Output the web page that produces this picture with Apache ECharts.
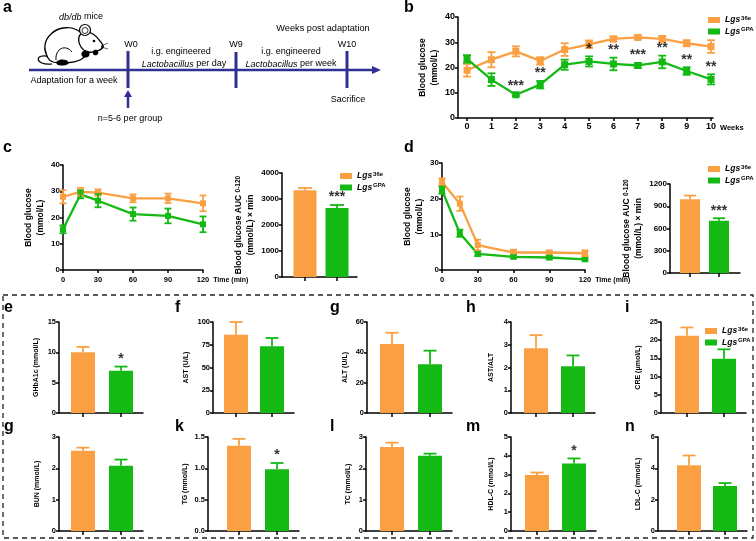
<!DOCTYPE html>
<html>
<head>
<meta charset="utf-8">
<script src="https://cdn.jsdelivr.net/npm/echarts@6/dist/echarts.min.js"></script>
<style>
html, body { margin: 0; padding: 0; background: #fff; }
#main { width: 756px; height: 541px; }
</style>
</head>
<body>
<div id="main"></div>
<script>
var chart = echarts.init(document.getElementById('main'));

var ORANGE = '#FAA042', GREEN = '#14B914', NAVY = '#2E3192';
var FONT = 'Liberation Sans, Arial, sans-serif';
var groups = ['Lgs36e', 'LgsGPA'];

// b: blood glucose by week
var weeks = [0, 1, 2, 3, 4, 5, 6, 7, 8, 9, 10];
var bMean36e = [18.9, 23.1, 26.4, 22.6, 27.1, 29.2, 31.3, 31.9, 31.3, 29.6, 28.3];
var bErr36e = [2.5, 3, 2, 1.5, 2.5, 1.5, 1, 0.8, 1.2, 1.2, 2.5];
var bMeanGPA = [23.4, 15.2, 9.2, 13.2, 21.1, 22.4, 21.4, 20.8, 22.2, 18.6, 15.3];
var bErrGPA = [1.5, 2.5, 0.5, 1.5, 2, 2, 2.5, 1, 2.5, 1.5, 2];
var bSig = ['', '', '***', '**', '', '*', '**', '***', '**', '**', '**'];

// c / d: tolerance tests
var minutes = [0, 15, 30, 60, 90, 120];
var cMean36e = [27.9, 29.8, 29.5, 27.3, 27.3, 25.4];
var cErr36e = [2.5, 1.5, 1.2, 1.5, 1.8, 3];
var cMeanGPA = [15.5, 28.8, 26.4, 21.3, 20.6, 17.4];
var cErrGPA = [1.5, 1.5, 2.5, 2.5, 2.8, 3];
var cAuc = [3333, 2654], cAucErr = [90, 115];
var dMean36e = [24.7, 18.6, 7.0, 4.9, 4.9, 4.7];
var dErr36e = [1, 2, 1.5, 0.8, 0.5, 0.8];
var dMeanGPA = [22.4, 10.3, 4.5, 3.7, 3.5, 3.0];
var dErrGPA = [1, 1, 0.6, 0.4, 0.5, 0.4];
var dAuc = [994, 703], dAucErr = [50, 36];

// e-n: serum biochemistry
var labNames = ['GHbA1c (mmol/L)', 'AST (U/L)', 'ALT (U/L)', 'AST/ALT', 'CRE (μmol/L)',
                'BUN (mmol/L)', 'TG (mmol/L)', 'TC (mmol/L)', 'HDL-C (mmol/L)', 'LDL-C (mmol/L)'];
var labLetters = ['e', 'f', 'g', 'h', 'i', 'g', 'k', 'l', 'm', 'n'];
var labMean36e = [10.0, 86, 45.5, 2.85, 21.2, 2.56, 1.36, 2.68, 2.98, 4.2];
var labErr36e = [0.9, 14, 7.4, 0.57, 2.3, 0.1, 0.11, 0.14, 0.13, 0.62];
var labMeanGPA = [6.95, 73.3, 32.1, 2.06, 14.9, 2.08, 0.985, 2.40, 3.59, 2.87];
var labErrGPA = [0.7, 9.1, 9, 0.47, 2.6, 0.2, 0.1, 0.07, 0.27, 0.19];
var labSig = ['*', '', '', '', '', '', '*', '', '*', ''];
var labMax = [15, 100, 60, 4, 25, 3, 1.5, 3, 5, 6];
var labStep = [5, 25, 20, 1, 5, 1, 0.5, 1, 1, 2];

// layout of the small bar panels: y axis x, bar centres, row, name gap
var labLayout = [
  {x: 59, c: [83, 121], row: 0, gap: 17},
  {x: 213, c: [236, 272], row: 0, gap: 21},
  {x: 367, c: [392, 430], row: 0, gap: 16},
  {x: 511, c: [536, 573], row: 0, gap: 14},
  {x: 661, c: [687, 724], row: 0, gap: 17},
  {x: 59, c: [83, 121], row: 1, gap: 16},
  {x: 208, c: [239, 277], row: 1, gap: 11},
  {x: 366, c: [392, 430], row: 1, gap: 12},
  {x: 511, c: [537, 574], row: 1, gap: 14},
  {x: 658, c: [689, 725], row: 1, gap: 14}
];
var rows = [{top: 322, height: 91}, {top: 437, height: 94}];

var grids = [], xAxes = [], yAxes = [], series = [];

function lineStyleAx() { return {color: '#000', width: 1.5}; }

function addGrid(box) {
  grids.push(box);
  return grids.length - 1;
}

function addY(gi, max, step, name, gap, fs, lfs, dec) {
  yAxes.push({
    type: 'value', gridIndex: gi, min: 0, max: max, interval: step,
    name: name, nameLocation: 'middle', nameGap: gap, nameRotate: 90,
    nameTextStyle: {fontSize: fs, fontWeight: 'bold', color: '#000', fontFamily: FONT, lineHeight: fs + 4,
      rich: {sub: {fontSize: fs - 2, fontWeight: 'bold', fontFamily: FONT, color: '#000'}}},
    axisLine: {show: true, onZero: false, lineStyle: lineStyleAx()},
    axisTick: {show: true, length: 3, lineStyle: lineStyleAx()},
    axisLabel: {fontSize: lfs, fontWeight: 'bold', color: '#000', fontFamily: FONT, margin: 3,
      formatter: function (v) { return dec ? v.toFixed(dec) : String(v); }},
    splitLine: {show: false}
  });
}

function errRender(cap, both, lw) {
  return function (params, api) {
    var x = api.value(0), y = api.value(1), e = api.value(2);
    var top = api.coord([x, y + e]);
    var bot = api.coord([x, both ? y - e : y]);
    var col = api.visual('color');
    function st() { return {stroke: col, lineWidth: lw}; }
    var kids = [
      {type: 'line', shape: {x1: top[0], y1: top[1], x2: bot[0], y2: bot[1]}, style: st()},
      {type: 'line', shape: {x1: top[0] - cap, y1: top[1], x2: top[0] + cap, y2: top[1]}, style: st()}
    ];
    if (both) kids.push({type: 'line', shape: {x1: bot[0] - cap, y1: bot[1], x2: bot[0] + cap, y2: bot[1]}, style: st()});
    return {type: 'group', children: kids};
  };
}

function starSeries(gi, pts, texts, fs) {
  series.push({
    type: 'scatter', xAxisIndex: gi, yAxisIndex: gi, symbolSize: 1, itemStyle: {color: 'rgba(0,0,0,0)'},
    silent: true, z: 6, data: pts,
    label: {show: true, position: 'top', distance: 0, fontSize: fs, fontWeight: 'bold', color: '#000', fontFamily: FONT,
      formatter: function (p) { return texts[p.dataIndex]; }}
  });
}

function linePanel(gi, xs, m1, e1, m2, e2, cap, sym) {
  [[m1, e1, ORANGE, groups[0]], [m2, e2, GREEN, groups[1]]].forEach(function (s) {
    series.push({
      type: 'line', name: s[3], xAxisIndex: gi, yAxisIndex: gi, silent: true, z: 3,
      data: xs.map(function (x, i) { return [x, s[0][i]]; }),
      symbol: 'rect', symbolSize: sym, itemStyle: {color: s[2]}, lineStyle: {color: s[2], width: 2.3}
    });
    series.push({
      type: 'custom', xAxisIndex: gi, yAxisIndex: gi, silent: true, z: 4,
      renderItem: errRender(cap, true, 1.8), itemStyle: {color: s[2]},
      data: xs.map(function (x, i) { return [x, s[0][i], s[1][i]]; })
    });
  });
}

function barPanel(gi, vals, errs, sig, bw, cap) {
  var cols = [ORANGE, GREEN];
  groups.forEach(function (g, k) {
    series.push({
      type: 'bar', name: g, xAxisIndex: gi, yAxisIndex: gi, silent: true, barWidth: bw, barGap: '-100%',
      itemStyle: {color: cols[k]}, data: [[k, vals[k]]]
    });
  });
  series.push({
    type: 'custom', xAxisIndex: gi, yAxisIndex: gi, silent: true, z: 4, renderItem: errRender(cap, false, 1.8),
    data: [0, 1].map(function (k) { return {value: [k, vals[k], errs[k]], itemStyle: {color: cols[k]}}; })
  });
  if (sig) starSeries(gi, [[1, vals[1] + errs[1]]], [sig], 14);
}

function barXAxis(gi, axisX, c1, c2, end) {
  var s = c2 - c1;
  xAxes.push({
    type: 'value', gridIndex: gi, min: -(c1 - axisX) / s, max: 1 + (end - c2) / s,
    axisLine: {show: true, onZero: false, lineStyle: lineStyleAx()},
    axisTick: {show: true, length: 4, customValues: [0, 1], lineStyle: lineStyleAx()},
    axisLabel: {show: false}, splitLine: {show: false}
  });
}

function timeXAxis(gi) {
  xAxes.push({
    type: 'value', gridIndex: gi, min: 0, max: 120, interval: 30,
    name: 'Time (min)', nameLocation: 'end', nameGap: 9,
    nameTextStyle: {fontSize: 7, fontWeight: 'bold', color: '#000', fontFamily: FONT, verticalAlign: 'top', padding: [7, 0, 0, 0]},
    axisLine: {show: true, onZero: false, lineStyle: lineStyleAx()},
    axisTick: {show: true, length: 3, lineStyle: lineStyleAx()},
    axisLabel: {fontSize: 7.5, fontWeight: 'bold', color: '#000', fontFamily: FONT, margin: 6},
    splitLine: {show: false}
  });
}

// ---- b ----
var gB = addGrid({left: 458, top: 17, width: 255, height: 101});
xAxes.push({
  type: 'value', gridIndex: gB, min: -0.37, max: 10.08,
  name: 'Weeks', nameLocation: 'end', nameGap: 6,
  nameTextStyle: {fontSize: 7.5, fontWeight: 'bold', color: '#000', fontFamily: FONT, verticalAlign: 'top', padding: [6, 0, 0, 0]},
  axisLine: {show: true, onZero: false, lineStyle: lineStyleAx()},
  axisTick: {show: true, length: 3, customValues: weeks, lineStyle: lineStyleAx()},
  axisLabel: {customValues: weeks, fontSize: 9, fontWeight: 'bold', color: '#000', fontFamily: FONT, margin: 4},
  splitLine: {show: false}
});
addY(gB, 40, 10, 'Blood glucose\n(mmol/L)', 16, 8.5, 9);
linePanel(gB, weeks, bMean36e, bErr36e, bMeanGPA, bErrGPA, 4, 7);
starSeries(gB, weeks.map(function (w, i) { return [w, bMeanGPA[i] + bErrGPA[i]]; }), bSig, 14);

// ---- c ----
var gC = addGrid({left: 63, top: 165, width: 140, height: 105});
timeXAxis(gC);
addY(gC, 40, 10, 'Blood glucose\n(mmol/L)', 16, 8.5, 8);
linePanel(gC, minutes, cMean36e, cErr36e, cMeanGPA, cErrGPA, 3.5, 6);

var gC2 = addGrid({left: 282, top: 173, width: 75, height: 104});
barXAxis(gC2, 282, 305, 337, 357);
addY(gC2, 4000, 1000, 'Blood glucose AUC {sub|0-120}\n(mmol/L) × min', 20, 8.5, 8);
barPanel(gC2, cAuc, cAucErr, '***', 23, 7);

// ---- d ----
var gD = addGrid({left: 442, top: 163, width: 143, height: 107});
timeXAxis(gD);
addY(gD, 30, 10, 'Blood glucose\n(mmol/L)', 14, 8.5, 8);
linePanel(gD, minutes, dMean36e, dErr36e, dMeanGPA, dErrGPA, 3.5, 6);

var gD2 = addGrid({left: 670, top: 184, width: 70, height: 89});
barXAxis(gD2, 670, 690, 719, 740);
addY(gD2, 1200, 300, 'Blood glucose AUC {sub|0-120}\n(mmol/L) × min', 23, 8.5, 8);
barPanel(gD2, dAuc, dAucErr, '***', 20, 6);

// ---- e-n ----
labLayout.forEach(function (L, i) {
  var r = rows[L.row];
  var end = L.c[1] + 22;
  var gi = addGrid({left: L.x, top: r.top, width: end - L.x, height: r.height});
  barXAxis(gi, L.x, L.c[0], L.c[1], end);
  addY(gi, labMax[i], labStep[i], labNames[i], L.gap, 7, 7.5, labStep[i] < 1 ? 1 : 0);
  barPanel(gi, [labMean36e[i], labMeanGPA[i]], [labErr36e[i], labErrGPA[i]], labSig[i], 24, 6.5);
});

// ---- legends ----
function legendAt(left, top) {
  return {
    data: groups, left: left, top: top, orient: 'vertical', icon: 'rect',
    itemWidth: 12, itemHeight: 6, itemGap: 2, selectedMode: false,
    formatter: function (n) { return '{i|Lgs}{s|' + n.slice(3) + '}'; },
    textStyle: {fontSize: 8, fontWeight: 'bold', color: '#000', fontFamily: FONT,
      rich: {
        i: {fontSize: 8.5, fontStyle: 'italic', fontWeight: 'bold', fontFamily: FONT, color: '#000'},
        s: {fontSize: 6, fontWeight: 'bold', fontFamily: FONT, color: '#000', verticalAlign: 'top', padding: [0, 0, 4, 1]}
      }}
  };
}
var legends = [legendAt(703, 10), legendAt(335, 166), legendAt(703, 159), legendAt(700, 321)];

// ---- panel a and figure decoration ----
function txt(x, y, text, size) {
  return {type: 'text', x: x, y: y, silent: true,
    style: {text: text, fontSize: size, fontFamily: FONT, fill: '#000', align: 'center', verticalAlign: 'middle',
      rich: {i: {fontStyle: 'italic', fontSize: size, fontFamily: FONT, fill: '#000'}}}};
}
function letter(x, y, t) {
  return {type: 'text', x: x, y: y, silent: true,
    style: {text: t, fontSize: 16, fontWeight: 'bold', fontFamily: FONT, fill: '#000', align: 'left', verticalAlign: 'middle'}};
}
function seg(x1, y1, x2, y2, w, c) {
  return {type: 'line', silent: true, shape: {x1: x1, y1: y1, x2: x2, y2: y2}, style: {stroke: c || NAVY, lineWidth: w}};
}

var mouse = {
  type: 'group', silent: true, children: [
    {type: 'bezierCurve', shape: {x1: 50, y1: 57, cpx1: 34, cpy1: 52, cpx2: 34, cpy2: 66, x2: 52, y2: 64},
      style: {stroke: '#000', lineWidth: 1.2, fill: null}},
    {type: 'polygon', shape: {smooth: 0.45, points: [[48, 58], [45, 45], [51, 34], [63, 28], [77, 30], [86, 39], [87, 52], [80, 60], [64, 63], [53, 62]]},
      style: {fill: '#fff', stroke: '#000', lineWidth: 1.3}},
    {type: 'polygon', shape: {smooth: 0.4, points: [[79, 37], [85, 32], [93, 34], [100, 41], [103, 47], [97, 51], [88, 52], [81, 47]]},
      style: {fill: '#fff', stroke: '#000', lineWidth: 1.3}},
    {type: 'circle', shape: {cx: 85, cy: 30, r: 5.5}, style: {fill: '#fff', stroke: '#000', lineWidth: 1.2}},
    {type: 'circle', shape: {cx: 85, cy: 30.5, r: 3}, style: {fill: null, stroke: '#000', lineWidth: 0.8}},
    {type: 'circle', shape: {cx: 94, cy: 41, r: 1.3}, style: {fill: '#000'}},
    {type: 'circle', shape: {cx: 102.5, cy: 47, r: 1.2}, style: {fill: '#000'}},
    {type: 'bezierCurve', shape: {x1: 56, y1: 60, cpx1: 55, cpy1: 48, cpx2: 66, cpy2: 44, x2: 72, y2: 52},
      style: {stroke: '#000', lineWidth: 1, fill: null}},
    {type: 'polygon', shape: {smooth: 0.5, points: [[57, 61], [66, 60], [68, 64], [58, 65]]}, style: {fill: '#000'}},
    {type: 'polygon', shape: {smooth: 0.5, points: [[82, 52], [88, 51], [89, 56], [83, 57]]}, style: {fill: '#000'}},
    {type: 'polygon', shape: {smooth: 0.5, points: [[93, 51], [97, 50], [98, 54], [94, 55]]}, style: {fill: '#000'}},
    seg(101, 46, 108, 43, 0.6, '#000'), seg(101, 47, 108, 49, 0.6, '#000')
  ]
};

var graphics = [
  mouse,
  seg(29, 70, 374, 70, 2.5),
  {type: 'polygon', silent: true, shape: {points: [[372, 66], [381, 70], [372, 74]]}, style: {fill: NAVY}},
  seg(128, 51, 128, 88, 3), seg(236, 52, 236, 88, 3), seg(347, 51, 347, 88, 3),
  seg(128, 108, 128, 95, 2.5),
  {type: 'polygon', silent: true, shape: {points: [[124, 97], [128, 90], [132, 97]]}, style: {fill: NAVY}},
  txt(81, 17, '{i|db/db} mice', 9),
  txt(323, 28, 'Weeks post adaptation', 9.2),
  txt(131, 45, 'W0', 9), txt(236, 45, 'W9', 9), txt(347, 45, 'W10', 9),
  txt(181, 52, 'i.g. engineered', 9), txt(184, 64, '{i|Lactobacillus} per day', 9),
  txt(291, 52, 'i.g. engineered', 9), txt(291, 64, '{i|Lactobacillus} per week', 9),
  txt(74, 81, 'Adaptation for a week', 9),
  txt(130, 119, 'n=5-6 per group', 9),
  txt(348, 100, 'Sacrifice', 9),
  {type: 'rect', silent: true, shape: {x: 3, y: 295, width: 750, height: 243},
    style: {fill: null, stroke: '#222', lineWidth: 1.3, lineDash: [5, 4]}},
  letter(3, 8, 'a'), letter(404, 8, 'b'), letter(3, 148, 'c'), letter(404, 148, 'd')
];
labLayout.forEach(function (L, i) {
  var lx = [4, 175, 330, 466, 625][i % 5];
  graphics.push(letter(lx, L.row === 0 ? 308 : 427, labLetters[i]));
});

chart.setOption({
  animation: false,
  backgroundColor: '#fff',
  textStyle: {fontFamily: FONT},
  grid: grids,
  xAxis: xAxes,
  yAxis: yAxes,
  legend: legends,
  series: series,
  graphic: {elements: graphics}
});
</script>
</body>
</html>
